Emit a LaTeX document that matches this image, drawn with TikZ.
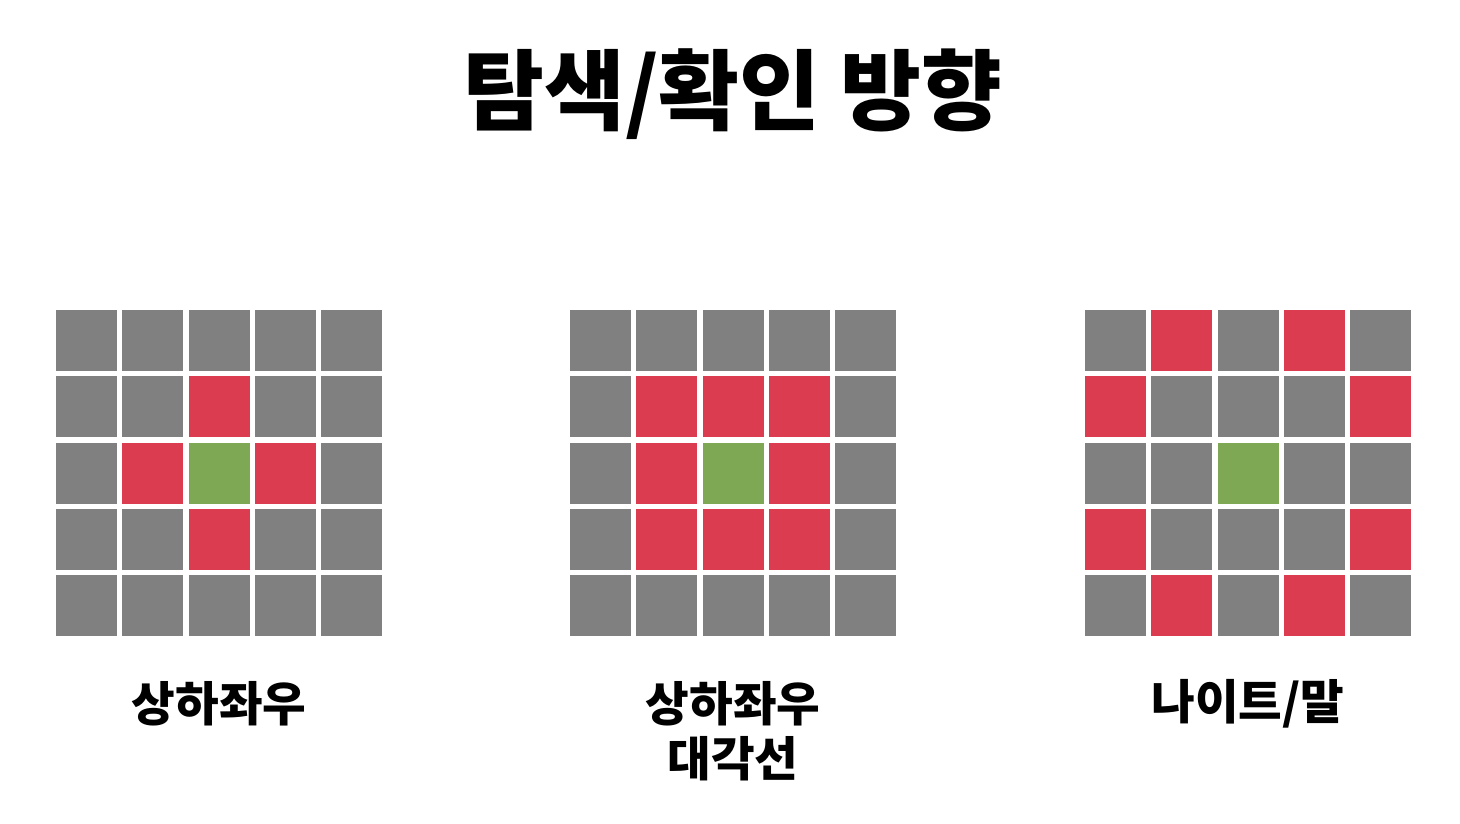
\documentclass[tikz,border=0pt]{standalone}
\usepackage{fontspec}
\setmainfont{Noto Sans CJK KR}
\usetikzlibrary{positioning}
\definecolor{cellGray}{HTML}{808080}
\definecolor{cellRed}{HTML}{DC3C4F}
\definecolor{cellGreen}{HTML}{7FA854}

\begin{document}
\begin{tikzpicture}[x=0.01cm,y=-0.01cm,
  cell/.style={minimum size=0.61cm, inner sep=0pt, draw=none, fill=cellGray},
  hit/.style={cell, fill=cellRed},
  here/.style={cell, fill=cellGreen},
  lbl/.style={font=\fontsize{13.5}{15.8}\selectfont\bfseries, align=center, inner sep=0pt}]
  \useasboundingbox (0,0) rectangle (1460,824);
  % title
  \node[font=\fontsize{25}{30}\selectfont\bfseries] (title) at (733,94) {탐색/확인 방향};
  % three 5x5 boards
  \foreach \g/\gx in {a/56,b/570,c/1085}
    \foreach \r in {0,...,4}
      \foreach \c in {0,...,4}
        \node[cell] (\g-\r-\c) at ({\gx+30.5+66.3*\c},{340.5+66.3*\r}) {};
  % up/down/left/right
  \foreach \r/\c in {1/2,2/1,2/3,3/2}
    \node[hit] at (a-\r-\c) {};
  \node[here] at (a-2-2) {};
  % plus diagonals
  \foreach \r/\c in {1/1,1/2,1/3,2/1,2/3,3/1,3/2,3/3}
    \node[hit] at (b-\r-\c) {};
  \node[here] at (b-2-2) {};
  % knight moves
  \foreach \r/\c in {0/1,0/3,1/0,1/4,3/0,3/4,4/1,4/3}
    \node[hit] at (c-\r-\c) {};
  \node[here] at (c-2-2) {};
  % labels
  \node[lbl] (labA) at (219,704) {상하좌우};
  \node[lbl] (labB) at (733,731) {상하좌우\\대각선};
  \node[lbl] (labC) at (1248,704) {나이트/말};
\end{tikzpicture}
\end{document}
